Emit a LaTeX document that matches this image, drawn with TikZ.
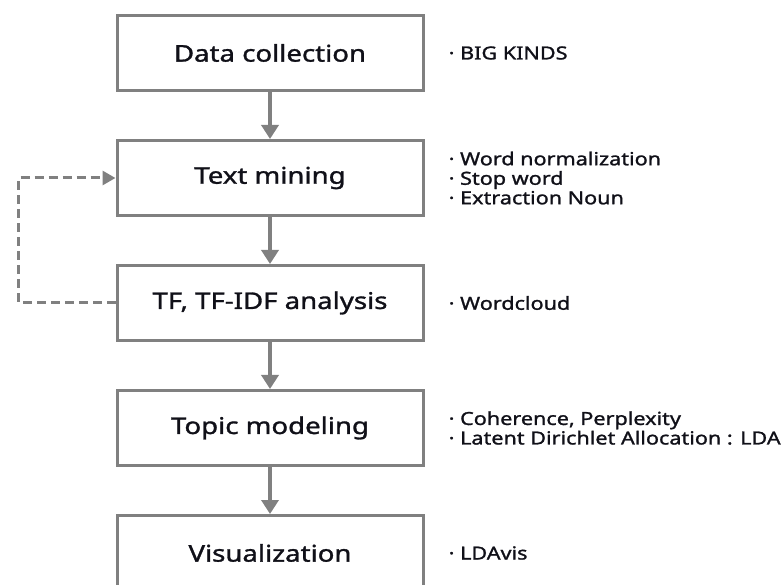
\documentclass[tikz,border=0pt]{standalone}
\usepackage{fontspec}
\setmainfont{Noto Sans}
\newfontfamily\widefont[FakeStretch=1.2,FakeBold=1.3]{Noto Sans}
\usepackage{tikz}
\usetikzlibrary{arrows.meta,positioning}
\definecolor{boxgray}{HTML}{808080}
\definecolor{textdark}{HTML}{101018}
\tikzset{
  stepbox/.style={draw=boxgray,line width=3pt,fill=white,minimum width=306pt,minimum height=75pt,
    align=center,text=textdark,font=\widefont\fontsize{23}{26}\selectfont},
  notebox/.style={anchor=west,align=left,inner sep=0pt,text=textdark,font=\widefont\fontsize{18}{19.5}\selectfont},
  flow/.style={-{Triangle[width=17pt,length=14pt]},line width=4pt,boxgray},
  feedback/.style={-{Triangle[width=14pt,length=13pt]},line width=3pt,boxgray,dash pattern=on 9pt off 5pt}
}
\begin{document}
\begin{tikzpicture}[x=1pt,y=1pt,node distance=47pt and 24pt]
  \useasboundingbox (0,0) rectangle (784,584);
  \node[stepbox] (collect) at (270,531) {Data collection};
  \node[stepbox,below=of collect] (mining) {Text mining};
  \node[stepbox,below=of mining] (tfidf) {TF, TF-IDF analysis};
  \node[stepbox,below=of tfidf] (topic) {Topic modeling};
  \node[stepbox,below=of topic] (visual) {Visualization};
  % notes beside each step
  \node[notebox,right=of collect] (collectnote) {· BIG KINDS};
  \node[notebox,right=of mining] (miningnote) {· Word normalization\\· Stop word\\· Extraction Noun};
  \node[notebox,right=of tfidf] (tfidfnote) {· Wordcloud};
  \node[notebox,right=of topic] (topicnote) {· Coherence, Perplexity\\· Latent Dirichlet Allocation : LDA};
  \node[notebox,right=of visual] (visualnote) {· LDAvis};
  \draw[flow] (collect) -- (mining);
  \draw[flow] (mining) -- (tfidf);
  \draw[flow] (tfidf) -- (topic);
  \draw[flow] (topic) -- (visual);
  \draw[feedback] (tfidf.west) -- ++(-97,0) |- (mining.west);
\end{tikzpicture}
\end{document}
